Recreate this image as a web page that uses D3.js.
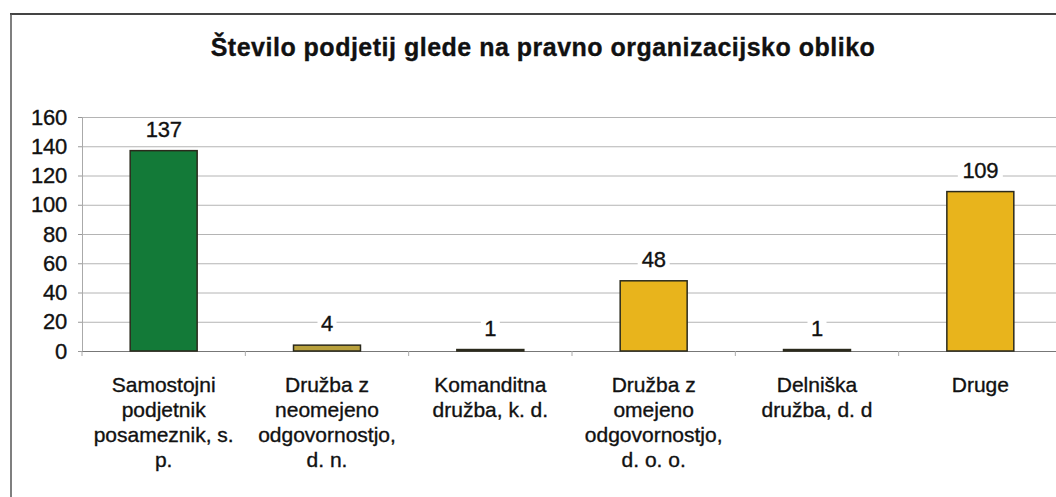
<!DOCTYPE html>
<html>
<head>
<meta charset="utf-8">
<script src="https://cdn.jsdelivr.net/npm/d3@7"></script>
<style>
  body { margin: 0; background: #fff; }
  text { font-family: "Liberation Sans", Arial, sans-serif; fill: #111; stroke: #111; stroke-width: 0.35px; }
</style>
</head>
<body>
<svg id="chart" width="1056" height="497"></svg>
<script>
var title = "Število podjetij glede na pravno organizacijsko obliko";
var categories = [
  "Samostojni\npodjetnik\nposameznik, s.\np.",
  "Družba z\nneomejeno\nodgovornostjo,\nd. n.",
  "Komanditna\ndružba, k. d.",
  "Družba z\nomejeno\nodgovornostjo,\nd. o. o.",
  "Delniška\ndružba, d. d",
  "Druge"
];
var values = [137, 4, 1, 48, 1, 109];
var barColors = ["#137a38", "#b8a03c", "#e8b41c", "#e8b41c", "#e8b41c", "#e8b41c"];
var yTicks = [0, 20, 40, 60, 80, 100, 120, 140, 160];

var svg = d3.select("#chart");

// outer frame of the chart
svg.append("line").attr("x1", 10).attr("x2", 1056).attr("y1", 14).attr("y2", 14)
  .attr("stroke", "#444").attr("stroke-width", 2);
svg.append("line").attr("x1", 11).attr("x2", 11).attr("y1", 14).attr("y2", 497)
  .attr("stroke", "#555").attr("stroke-width", 1.5);

svg.append("text")
  .attr("x", 543).attr("y", 56)
  .attr("text-anchor", "middle")
  .attr("font-size", 25).attr("font-weight", "bold")
  .attr("letter-spacing", 0.5)
  .text(title);

var plotL = 82, plotR = 1062, plotT = 117, plotB = 351;

var x = d3.scaleBand().domain(d3.range(categories.length))
  .range([plotL, plotR]).paddingInner(0.59).paddingOuter(0.295);
var xTicks = d3.scaleBand().domain(d3.range(categories.length)).range([plotL, plotR]);
var y = d3.scaleLinear().domain([0, 160]).range([plotB, plotT]);

// gridlines
svg.append("g").selectAll("line").data(yTicks.slice(1)).enter().append("line")
  .attr("x1", plotL).attr("x2", plotR)
  .attr("y1", function(d) { return y(d) + 0.5; })
  .attr("y2", function(d) { return y(d) + 0.5; })
  .attr("stroke", "#b4b4b4").attr("stroke-width", 1);

// y axis
var yAxis = svg.append("g").attr("transform", "translate(" + plotL + ",0)")
  .call(d3.axisLeft(y).tickValues(yTicks).tickSize(4).tickPadding(11));
yAxis.select(".domain").attr("stroke", "#aaa");
yAxis.selectAll(".tick line").attr("stroke", "#999");
yAxis.selectAll("text").attr("font-size", 22).attr("letter-spacing", -0.2)
  .attr("fill", "#111").attr("font-family", "Liberation Sans, Arial, sans-serif");

// x axis
var xAxisG = svg.append("g").attr("transform", "translate(0," + plotB + ")");
xAxisG.append("line").attr("x1", plotL).attr("x2", plotR).attr("y1", 0.5).attr("y2", 0.5)
  .attr("stroke", "#777");
xAxisG.selectAll(".xt").data(d3.range(categories.length + 1)).enter().append("line")
  .attr("x1", function(d) { return plotL + d * xTicks.bandwidth(); })
  .attr("x2", function(d) { return plotL + d * xTicks.bandwidth(); })
  .attr("y1", 0).attr("y2", 5).attr("stroke", "#aaa");

// bars
svg.append("g").selectAll("rect").data(values).enter().append("rect")
  .attr("x", function(d, i) { return x(i); })
  .attr("y", function(d) { return y(d); })
  .attr("width", x.bandwidth())
  .attr("height", function(d) { return plotB - y(d); })
  .attr("fill", function(d, i) { return barColors[i]; })
  .attr("stroke", "#2b2a1c").attr("stroke-width", 1.5);

// value labels with white background
var lab = svg.append("g").selectAll("g").data(values).enter().append("g")
  .attr("transform", function(d, i) {
    return "translate(" + (x(i) + x.bandwidth() / 2) + "," + (y(d) - 14) + ")";
  });
lab.append("rect")
  .attr("x", function(d) { return -String(d).length * 6.5 - 3; })
  .attr("y", -16)
  .attr("width", function(d) { return String(d).length * 13 + 6; })
  .attr("height", 18).attr("fill", "#fff");
lab.append("text")
  .attr("text-anchor", "middle")
  .attr("font-size", 22).attr("letter-spacing", -0.3)
  .text(function(d) { return d; });

// category labels
var cat = svg.append("g").selectAll("text").data(categories).enter().append("text")
  .attr("text-anchor", "middle")
  .attr("font-size", 21).attr("letter-spacing", 0)
  .attr("transform", function(d, i) {
    return "translate(" + (xTicks(i) + xTicks.bandwidth() / 2) + ",392)";
  });
cat.selectAll("tspan").data(function(d) { return d.split("\n"); }).enter().append("tspan")
  .attr("x", 0).attr("dy", function(d, i) { return i === 0 ? 0 : 25; })
  .text(function(d) { return d; });
</script>
</body>
</html>
